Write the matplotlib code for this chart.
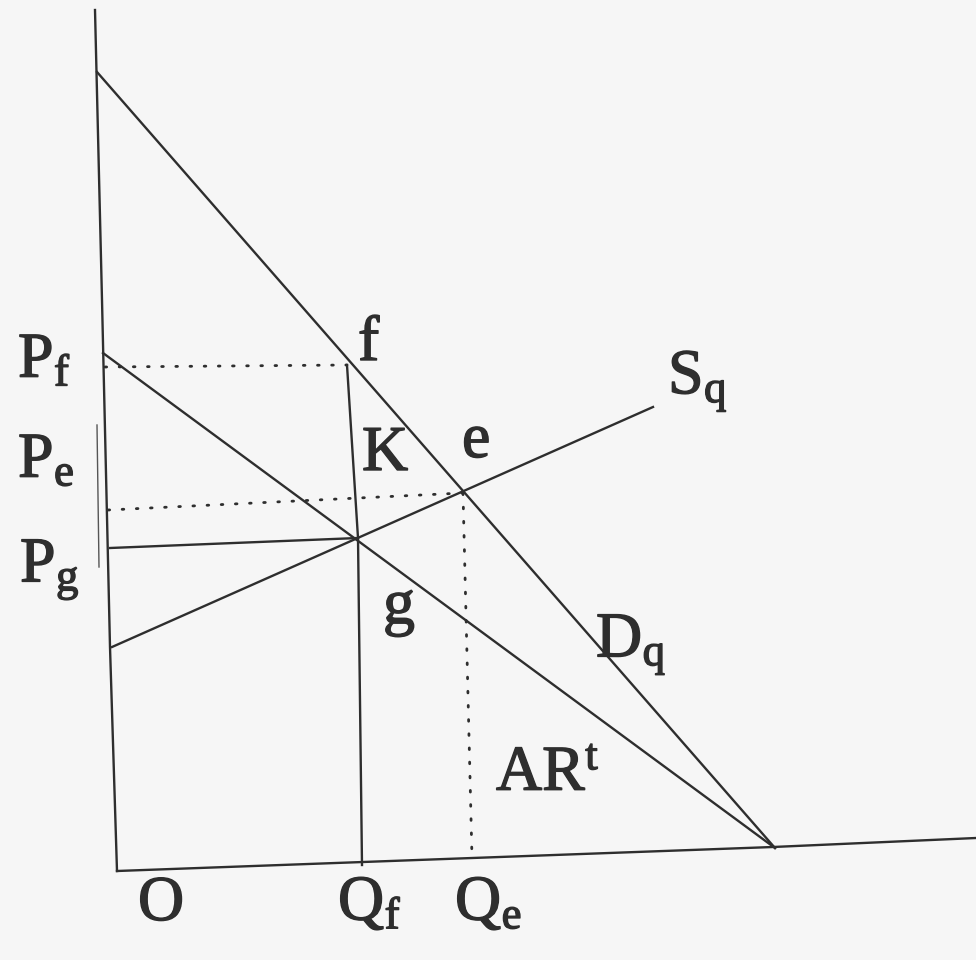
import matplotlib
matplotlib.use("Agg")
import matplotlib.pyplot as plt
import matplotlib.patheffects as pe

plt.rcParams['mathtext.fontset'] = 'custom'
plt.rcParams['mathtext.rm'] = 'Liberation Serif'
plt.rcParams['mathtext.it'] = 'Liberation Serif'
plt.rcParams['font.family'] = ['Liberation Serif', 'DejaVu Serif']

# === diagram geometry (image units, y grows downward) ===
y_axis_x = [95, 102, 110, 117]
y_axis_y = [10, 300, 647, 871]
x_axis_x = [117, 773, 976]
x_axis_y = [871, 847, 838]

demand_x = [97, 775]          # D_q
demand_y = [72, 848]
ar_x = [103, 775]             # AR^t
ar_y = [353, 848]
supply_x = [112, 653]         # S_q
supply_y = [647, 407]

qf_x = [347, 358, 362]        # vertical from f down to Q_f
qf_y = [365, 538, 865]
pf_x = [105, 347]             # dotted P_f
pf_y = [367, 365]
pe_x = [108, 463]             # dotted P_e
pe_y = [510, 493]
qe_x = [463, 472]             # dotted Q_e
qe_y = [493, 858]
pg_x = [110, 358]             # solid P_g
pg_y = [548, 538]
fold_x = [97, 99]             # scan fold mark on left
fold_y = [425, 567]

labels = [
    ("$\\mathrm{P_f}$", 18, 362),
    ("$\\mathrm{P_e}$", 18, 462),
    ("$\\mathrm{P_g}$", 20, 570),
    ("f", 358, 345),
    ("K", 362, 455),
    ("e", 462, 442),
    ("$\\mathrm{S_q}$", 668, 382),
    ("g", 383, 608),
    ("$\\mathrm{D_q}$", 596, 645),
    ("$\\mathrm{AR^t}$", 496, 775),
    ("O", 138, 905),
    ("$\\mathrm{Q_f}$", 338, 905),
    ("$\\mathrm{Q_e}$", 455, 905),
]

ink = '#2e2e2e'
fig = plt.figure(figsize=(9.76, 9.6), dpi=100, facecolor='#f6f6f6')
ax = fig.add_axes([0, 0, 1, 1])
ax.set_facecolor('#f6f6f6')
ax.set_xlim(0, 976)
ax.set_ylim(960, 0)
ax.axis('off')

lw = 1.7
ax.plot(y_axis_x, y_axis_y, color=ink, lw=lw)
ax.plot(x_axis_x, x_axis_y, color=ink, lw=lw)
ax.plot(demand_x, demand_y, color=ink, lw=lw)
ax.plot(ar_x, ar_y, color=ink, lw=lw)
ax.plot(supply_x, supply_y, color=ink, lw=lw)
ax.plot(qf_x, qf_y, color=ink, lw=lw)
ax.plot(pg_x, pg_y, color=ink, lw=lw)
ax.plot(fold_x, fold_y, color='#555555', lw=1.0)

dot = dict(color=ink, lw=2.0, linestyle=(0, (0.6, 4.5)), dash_capstyle='round')
ax.plot(pf_x, pf_y, **dot)
ax.plot(pe_x, pe_y, **dot)
ax.plot(qe_x, qe_y, **dot)

# scanned letters look a bit heavier than the plain font
thick = [pe.withStroke(linewidth=1.0, foreground=ink)]
for txt, x, y in labels:
    ax.text(x, y, txt, fontsize=46, color=ink, ha='left', va='center',
            path_effects=thick)

plt.savefig("out.png", dpi=100, facecolor=fig.get_facecolor())
